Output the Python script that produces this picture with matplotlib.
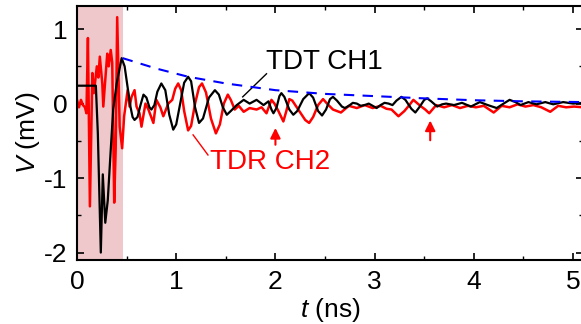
import matplotlib
matplotlib.use('Agg')
import matplotlib.pyplot as plt
from matplotlib.ticker import MultipleLocator

plt.rcParams['font.family'] = ['Liberation Sans', 'DejaVu Sans']
plt.rcParams['mathtext.fontset'] = 'custom'
plt.rcParams['mathtext.it'] = 'Liberation Sans:italic'
plt.rcParams['mathtext.rm'] = 'Liberation Sans'
plt.rcParams['axes.unicode_minus'] = False

# TDT CH1 (black)
tdt_t = [0.00, 0.19, 0.21, 0.24, 0.26, 0.285, 0.31, 0.34, 0.365, 0.40, 0.45,
         0.48, 0.51, 0.54, 0.56, 0.58, 0.61, 0.64, 0.67, 0.70, 0.73, 0.75,
         0.78, 0.81, 0.85, 0.89, 0.93, 0.97, 1.00, 1.04, 1.08, 1.12, 1.15,
         1.19, 1.23, 1.27, 1.33, 1.39, 1.43, 1.47, 1.51, 1.55, 1.61, 1.68,
         1.74, 1.81, 1.88, 1.93, 1.96, 1.98, 2.01, 2.04, 2.06, 2.09, 2.14,
         2.18, 2.22, 2.28, 2.34, 2.38, 2.43, 2.47, 2.51, 2.55, 2.58, 2.62,
         2.67, 2.70, 2.74, 2.78, 2.82, 2.86, 2.90, 2.94, 2.98, 3.02, 3.06,
         3.10, 3.14, 3.18, 3.22, 3.27, 3.31, 3.37, 3.41, 3.45, 3.50, 3.53,
         3.57, 3.63, 3.68, 3.72, 3.80, 3.88, 3.97, 4.06, 4.14, 4.23, 4.30,
         4.36, 4.42, 4.47, 4.55, 4.63, 4.72, 4.80, 4.90, 5.00, 5.10]
tdt_v = [0.24, 0.24, -0.40, -2.00, -0.95, -1.60, -1.30, -0.62, -0.08, 0.27, 0.61,
         0.50, 0.22, -0.05, -0.18, -0.22, -0.18, -0.02, 0.12, 0.08, -0.05, -0.08,
         -0.02, 0.16, 0.27, 0.18, -0.15, -0.35, -0.28, 0.00, 0.28, 0.36, 0.30,
         -0.05, -0.26, -0.20, 0.08, 0.18, 0.12, -0.05, -0.15, -0.10, -0.02, 0.05,
         0.00, 0.05, -0.02, 0.03, -0.08, -0.13, -0.06, 0.10, 0.14, 0.09, -0.08,
         -0.15, -0.10, 0.06, 0.14, 0.08, -0.10, -0.16, -0.08, 0.06, 0.09, 0.04,
         -0.04, -0.06, -0.03, 0.01, 0.00, -0.03, -0.02, 0.00, -0.03, -0.06, -0.02,
         0.01, 0.00, -0.02, 0.04, 0.09, 0.05, -0.07, -0.12, -0.05, 0.05, 0.07,
         0.03, -0.04, -0.01, 0.00, -0.02, 0.01, -0.04, 0.02, -0.02, -0.06, 0.00,
         0.05, 0.02, -0.02, 0.02, -0.01, 0.02, -0.01, 0.02, 0.00, 0.01]

# TDR CH2 (red)
tdr_t = [0.00, 0.02, 0.04, 0.06, 0.08, 0.095, 0.11, 0.13, 0.155, 0.17, 0.20,
         0.215, 0.23, 0.255, 0.265, 0.29, 0.305, 0.32, 0.34, 0.355, 0.375, 0.39,
         0.405, 0.43, 0.455, 0.475, 0.51, 0.53, 0.55, 0.58, 0.60, 0.63, 0.65,
         0.69, 0.72, 0.77, 0.80, 0.84, 0.87, 0.92, 0.96, 0.99, 1.02, 1.05,
         1.08, 1.12, 1.15, 1.19, 1.23, 1.26, 1.30, 1.35, 1.40, 1.44, 1.48,
         1.52, 1.55, 1.59, 1.63, 1.68, 1.74, 1.81, 1.86, 1.91, 1.94, 1.96,
         1.99, 2.03, 2.08, 2.11, 2.14, 2.17, 2.20, 2.25, 2.30, 2.34, 2.38,
         2.43, 2.48, 2.52, 2.58, 2.66, 2.74, 2.82, 2.90, 2.98, 3.06, 3.12,
         3.17, 3.24, 3.30, 3.35, 3.39, 3.46, 3.51, 3.55, 3.62, 3.70, 3.78,
         3.86, 3.94, 4.02, 4.10, 4.20, 4.28, 4.36, 4.44, 4.52, 4.60, 4.68,
         4.77, 4.85, 4.93, 5.01, 5.10]
tdr_v = [0.05, -0.05, 0.05, -0.02, -0.05, -0.13, 0.88, -1.38, 0.41, 0.14, 0.50,
         0.35, 0.63, 0.27, -0.04, 0.41, 0.67, 0.50, 0.72, 0.55, -1.33, -0.60,
         1.16, -0.31, -0.60, -0.17, 0.18, -0.04, 0.09, 0.18, -0.04, -0.13, -0.31,
         0.00, -0.08, -0.26, 0.05, -0.05, -0.17, 0.00, 0.05, 0.20, 0.27, 0.18,
         -0.10, -0.36, -0.30, 0.00, 0.22, 0.27, 0.15, -0.20, -0.40, -0.28, 0.00,
         0.12, 0.05, -0.08, -0.03, -0.11, -0.06, -0.08, -0.05, -0.13, -0.02, 0.05,
         0.00, -0.10, -0.24, -0.10, 0.06, 0.04, -0.02, -0.12, -0.22, -0.26, -0.18,
         -0.02, 0.06, 0.00, -0.08, -0.12, -0.03, -0.06, -0.02, -0.06, -0.03, -0.07,
         -0.08, -0.17, -0.10, -0.02, 0.05, -0.03, -0.08, -0.13, -0.02, -0.05, -0.02,
         -0.06, -0.03, -0.05, -0.03, -0.12, -0.03, -0.05, -0.01, -0.04, -0.02, -0.05,
         -0.11, -0.03, -0.05, -0.04, -0.05]

# decay envelope (blue dashed)
env_t = [0.46, 0.80, 1.12, 1.50, 2.00, 2.50, 3.00, 3.50, 4.00, 4.50, 5.10]
env_v = [0.61, 0.47, 0.36, 0.27, 0.18, 0.13, 0.10, 0.07, 0.045, 0.03, 0.02]

shade_end = 0.46
arrow_t = [2.00, 3.56]

fig = plt.figure(figsize=(5.81, 3.24), dpi=100)
ax = fig.add_axes([77 / 581, 64 / 324, 506 / 581, 254 / 324])

ax.axvspan(0, shade_end, color='#efc8cb', lw=0, zorder=0)
ax.plot(env_t, env_v, color='#0000ff', ls=(0, (5, 4)), lw=1.5, zorder=4)
ax.plot(tdr_t, tdr_v, color='#ff0000', lw=1.8, zorder=2, solid_joinstyle='round')
ax.plot(tdt_t, tdt_v, color='black', lw=1.6, zorder=3, solid_joinstyle='round')

# arrows at the reflections
ax.annotate('', xy=(arrow_t[0], -0.29), xytext=(arrow_t[0], -0.59),
            arrowprops=dict(arrowstyle='-|>', color='red', lw=1.5, mutation_scale=15))
ax.annotate('', xy=(arrow_t[1], -0.19), xytext=(arrow_t[1], -0.53),
            arrowprops=dict(arrowstyle='-|>', color='red', lw=1.5, mutation_scale=15))

# labels with leader lines
ax.plot([1.91, 1.67], [0.40, 0.09], color='black', lw=1)
ax.text(1.90, 0.56, 'TDT CH1', fontsize=20, color='black', va='center', ha='left')
ax.plot([1.17, 1.32], [-0.42, -0.69], color='red', lw=1)
ax.text(1.34, -0.79, 'TDR CH2', fontsize=20, color='red', va='center', ha='left')

ax.set_xlim(0, 5.1)
ax.set_ylim(-2.1, 1.31)
ax.xaxis.set_major_locator(MultipleLocator(1))
ax.xaxis.set_minor_locator(MultipleLocator(0.5))
ax.yaxis.set_major_locator(MultipleLocator(1))
ax.yaxis.set_minor_locator(MultipleLocator(0.5))
ax.tick_params(which='both', direction='in', top=True, right=True, labelsize=19)
ax.tick_params(which='major', length=5, width=1.2, pad=7)
ax.tick_params(which='minor', length=3, width=1.0)
for s in ax.spines.values():
    s.set_linewidth(1.5)

ax.set_xlabel(r'$t$ (ns)', fontsize=19, labelpad=2)
ax.set_ylabel(r'$V$ (mV)', fontsize=19, labelpad=1)

fig.savefig('out.png', dpi=100)
